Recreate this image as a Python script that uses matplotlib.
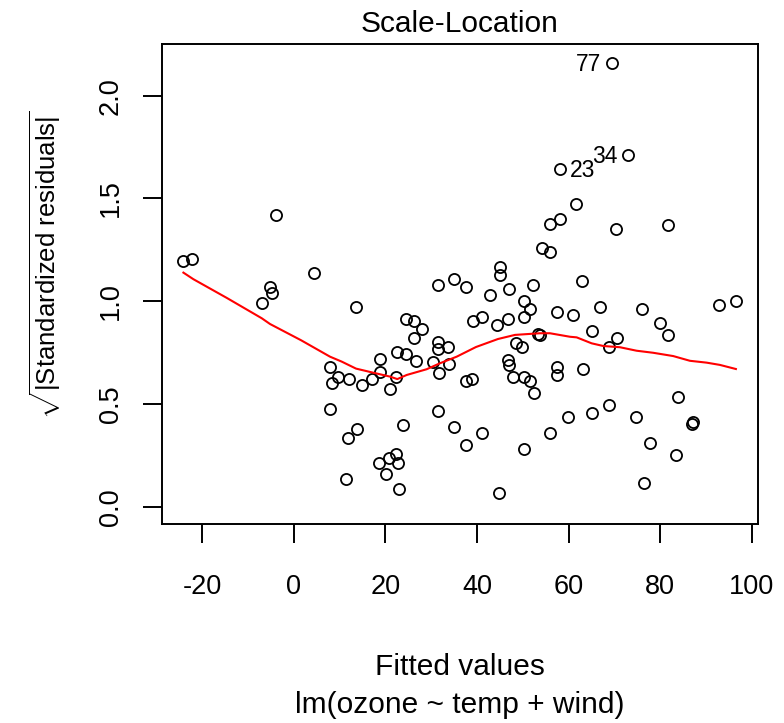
import matplotlib
matplotlib.use('Agg')
import matplotlib.pyplot as plt

plt.rcParams['font.family'] = ['Liberation Sans', 'DejaVu Sans']
plt.rcParams['mathtext.fontset'] = 'custom'
plt.rcParams['mathtext.rm'] = 'Liberation Sans'
plt.rcParams['mathtext.it'] = 'Liberation Sans:italic'

# fitted values of lm(ozone ~ temp + wind) and sqrt(|standardized residuals|)
fitted = [
    -24.03, -22.07, -6.94, -5.13, -4.62, -3.88, 4.41, 7.96, 8.33, 9.77,
    12.17, 14.94, 7.96, 11.82, 13.85, 11.39, 13.57, 17.19, 18.87, 18.87,
    21.05, 22.36, 22.64, 24.47, 26.72, 24.47, 26.28, 27.96, 26.28, 23.95,
    22.36, 20.89, 22.86, 18.71, 20.11, 23.08, 31.52, 35.00, 37.62, 31.52,
    31.52, 33.70, 30.49, 34.02, 31.84, 37.62, 38.93, 31.62, 34.94, 37.62,
    41.05, 42.86, 45.04, 45.04, 47.11, 39.21, 41.05, 44.49, 46.72, 48.53,
    49.77, 50.32, 51.58, 50.32, 52.30, 53.44, 46.72, 47.11, 47.94, 50.27,
    51.58, 52.39, 50.21, 44.93, 54.13, 55.94, 55.94, 58.12, 61.55, 58.12,
    53.76, 57.58, 61.03, 62.86, 65.04, 57.58, 57.58, 63.21, 55.94, 59.80,
    65.04, 68.88, 66.85, 68.88, 70.62, 70.27, 69.53, 73.02, 74.63, 75.94,
    77.75, 76.45, 79.94, 81.61, 81.61, 83.36, 83.80, 86.85, 87.07, 92.87,
    96.51,
]
sqrt_std_resid = [
    1.197, 1.207, 0.991, 1.071, 1.041, 1.419, 1.139, 0.681, 0.603, 0.630,
    0.621, 0.592, 0.475, 0.333, 0.380, 0.135, 0.973, 0.621, 0.719, 0.657,
    0.573, 0.633, 0.751, 0.743, 0.710, 0.913, 0.905, 0.865, 0.821, 0.398,
    0.256, 0.236, 0.211, 0.214, 0.158, 0.086, 1.080, 1.109, 1.071, 0.801,
    0.767, 0.779, 0.703, 0.692, 0.653, 0.613, 0.621, 0.467, 0.389, 0.300,
    0.360, 1.032, 1.168, 1.128, 1.061, 0.905, 0.925, 0.884, 0.913, 0.799,
    0.779, 1.001, 0.962, 0.925, 1.080, 0.839, 0.714, 0.691, 0.631, 0.631,
    0.612, 0.555, 0.282, 0.068, 1.257, 1.239, 1.376, 1.398, 1.472, 1.642,
    0.836, 0.945, 0.933, 1.100, 0.856, 0.681, 0.641, 0.670, 0.360, 0.438,
    0.457, 0.495, 0.973, 0.779, 0.819, 1.351, 2.158, 1.711, 0.438, 0.962,
    0.311, 0.114, 0.895, 0.836, 1.373, 0.252, 0.535, 0.402, 0.410, 0.982,
    1.002,
]

# lowess smooth through the points
smooth_x = [
    -24.03, -21.85, -14.57, -6.94, -5.13, 1.64, 7.96, 10.51, 13.63, 17.40,
    21.05, 22.64, 24.69, 29.05, 31.95, 35.59, 39.80, 44.60, 48.31, 53.76,
    55.94, 60.30, 61.77, 65.04, 67.57, 71.21, 74.85, 78.47, 82.84, 86.48,
    90.12, 93.02, 96.51,
]
smooth_y = [
    1.139, 1.107, 1.016, 0.917, 0.889, 0.810, 0.730, 0.706, 0.672, 0.652,
    0.633, 0.621, 0.641, 0.669, 0.698, 0.730, 0.777, 0.816, 0.836, 0.844,
    0.844, 0.827, 0.824, 0.795, 0.782, 0.776, 0.759, 0.749, 0.733, 0.710,
    0.701, 0.690, 0.670,
]

# observation numbers of the three largest values
id_labels = ['77', '34', '23']

x_ticks = [-20, 0, 20, 40, 60, 80, 100]
y_ticks = [0.0, 0.5, 1.0, 1.5, 2.0]

W, H = 784, 723
fig = plt.figure(figsize=(W / 100, H / 100), dpi=100)
left, right, top, bottom = 162, 758.3, 44.3, 524.3
ax = fig.add_axes([left / W, 1 - bottom / H, (right - left) / W, (bottom - top) / H])

ax.plot(fitted, sqrt_std_resid, 'o', mfc='none', mec='black', ms=8, mew=1.3)
ax.plot(smooth_x, smooth_y, color='red', lw=1.5)

# label the extreme points, left or right of the point like plot.lm does
order = sorted(range(len(sqrt_std_resid)), key=lambda i: -sqrt_std_resid[i])[:len(id_labels)]
ids_x = [fitted[i] for i in order]
mid = (min(ids_x) + max(ids_x)) / 2
for lab, i in zip(id_labels, order):
    on_left = fitted[i] > mid
    ax.annotate(lab, (fitted[i], sqrt_std_resid[i]),
                xytext=(-8 if on_left else 7, -1), textcoords='offset points',
                ha='right' if on_left else 'left', va='center', fontsize=16.5)

ax.set_xlim(-28.7, 101.4)
ax.set_ylim(-0.0856, 2.250)
ax.set_xticks(x_ticks)
ax.set_xticklabels([str(t) for t in x_ticks])
ax.set_yticks(y_ticks)
ax.set_yticklabels([f'{t:.1f}' for t in y_ticks], rotation=90, va='center')

for s in ax.spines.values():
    s.set_linewidth(1.4)
ax.tick_params(direction='out', length=13.5, width=1.4, labelsize=19.5)
ax.tick_params(axis='x', pad=22)
ax.tick_params(axis='y', pad=14)

fig.text(460 / W, 1 - 32 / H, 'Scale-Location', ha='center', va='baseline', fontsize=21.5)
fig.text(460 / W, 1 - 675 / H, 'Fitted values', ha='center', va='baseline', fontsize=21.5)
fig.text(460 / W, 1 - 713 / H, 'lm(ozone ~ temp + wind)', ha='center', va='baseline', fontsize=21.5)
fig.text(45 / W, 1 - 265 / H, r'$\sqrt{|\mathrm{Standardized\ residuals}|}$',
         rotation=90, ha='center', va='center', fontsize=18.5)

fig.savefig('out.png', dpi=100)
